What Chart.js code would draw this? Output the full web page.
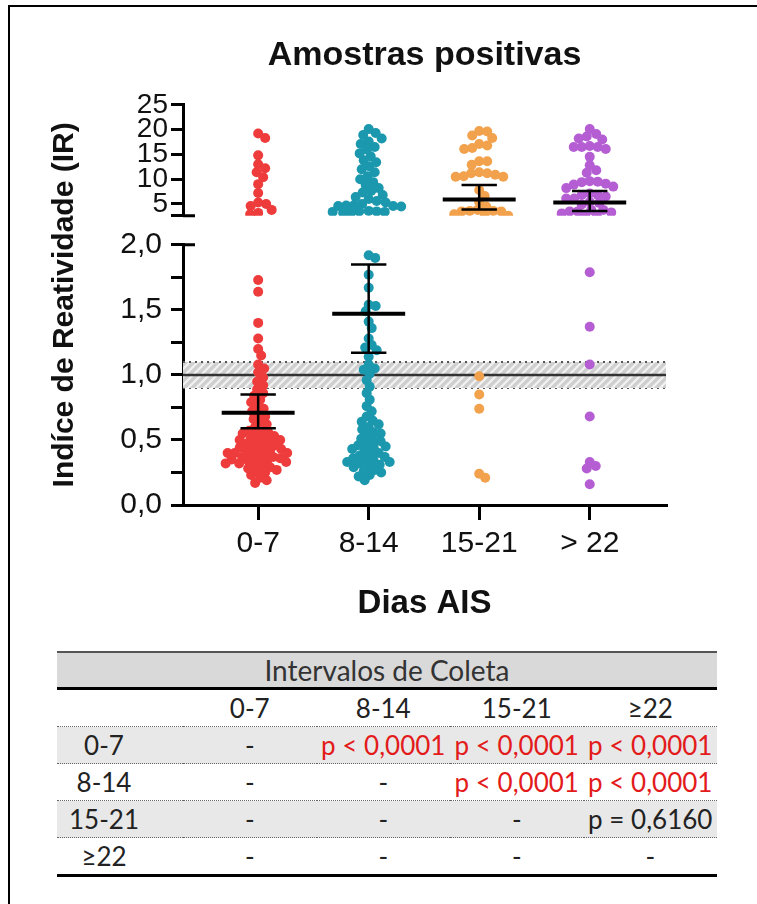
<!DOCTYPE html>
<html>
<head>
<meta charset="utf-8">
<script src="https://cdn.jsdelivr.net/npm/chart.js@4.4.1/dist/chart.umd.min.js"></script>
<style>
  html, body { margin: 0; background: #fff; overflow: hidden; }
  #frame { position: absolute; left: 8px; top: 5px; width: 747px; height: 899px; border-left: 2px solid #000; border-top: 2px solid #000; }
  #chartBox { position: absolute; left: 0; top: 0; }
  #tbl { position: absolute; left: 57px; top: 651px; width: 660px; border-collapse: collapse; table-layout: fixed;
         font-family: Lato, 'Open Sans', sans-serif; font-size: 26px; color: #222; }
  #tbl th, #tbl td { padding: 0; text-align: center; font-weight: normal; height: 36px; }
  #tbl th { background: #d9d9d9; border-top: 2px solid #555; border-bottom: 3px solid #000; height: 34px; color: #333; font-size: 28px; }
  #tbl tr.linha td { border-top: 1px dotted #666; }
  #tbl tr.cinza td { background: #e8e8e8; }
  #tbl tr.ultima td { border-bottom: 3px solid #000; }
  #tbl td.rot { padding-right: 32px; }
  #tbl td.sig { color: #e31b1b; }
</style>
</head>
<body>
<div id="frame"></div>
<div id="chartBox"><canvas id="irChart" width="757" height="640"></canvas></div>
<table id="tbl"></table>
<script>
// grupos (dias AIS)
const grupos = ['0-7', '8-14', '15-21', '> 22'];
const cores = ['#ee3c3c', '#1b98ad', '#f2a14c', '#b55ed4'];

// IR de cada amostra, por grupo
const ir0_7 = [19.2, 18.3, 14.8, 13.0, 12.2, 11.4, 10.4, 9.0, 7.2, 5.3, 5.0, 4.6, 3.8, 3.2, 2.9,
  1.73, 1.64, 1.40, 1.28, 1.20, 1.15, 1.08, 1.05, 1.02, 0.98, 0.95, 0.92, 0.89, 0.86, 0.84, 0.81,
  0.79, 0.76, 0.74, 0.72, 0.70, 0.68, 0.66, 0.64, 0.62, 0.60, 0.58, 0.57, 0.56,
  0.55, 0.54, 0.53, 0.52, 0.51, 0.50,
  0.50, 0.49, 0.48, 0.47, 0.46, 0.45,
  0.45, 0.44, 0.43, 0.42, 0.42, 0.41, 0.40, 0.40,
  0.40, 0.39, 0.38, 0.37, 0.37, 0.36, 0.35, 0.35,
  0.34, 0.34, 0.33, 0.32, 0.32, 0.31, 0.30,
  0.29, 0.28, 0.27, 0.26, 0.25, 0.23, 0.21, 0.19, 0.17];
const ir8_14 = [20.1, 19.3, 18.9, 18.2, 17.6, 17.1, 16.5, 16.0, 15.2, 14.6, 13.8, 13.4, 12.6, 12.0,
  11.4, 10.6, 10.0, 9.4, 8.8, 8.2, 7.6, 7.3, 6.8, 6.4, 6.0, 5.6, 5.3, 5.0,
  4.8, 4.7, 4.6, 4.6, 4.5, 3.6, 3.5, 3.5, 3.4, 3.4, 3.3, 3.2,
  1.92, 1.90, 1.77, 1.67, 1.54, 1.53, 1.49, 1.41, 1.36, 1.28, 1.23, 1.21, 1.19, 1.14, 1.08, 1.05,
  1.04, 1.01, 0.96, 0.91, 0.86, 0.81, 0.76, 0.72, 0.68, 0.65, 0.64, 0.62, 0.60, 0.58, 0.56, 0.55,
  0.53, 0.51, 0.50, 0.49, 0.47, 0.46, 0.45, 0.44, 0.43, 0.42, 0.40, 0.39, 0.38, 0.37, 0.36, 0.35,
  0.34, 0.33, 0.33, 0.32, 0.31, 0.30, 0.29, 0.27, 0.26, 0.25, 0.23, 0.22, 0.19];
const ir15_21 = [19.7, 19.6, 18.8, 18.3, 17.1, 16.8, 16.3, 16.1, 13.6, 13.6, 12.9, 11.4, 11.2, 11.2,
  10.9, 10.6, 10.5, 10.5, 7.8, 6.6, 5.4, 4.5, 3.8, 3.6, 3.6, 3.5, 3.5, 2.9, 2.9, 2.6,
  0.99, 0.85, 0.74, 0.24, 0.21];
const ir22 = [20.1, 19.1, 18.6, 18.2, 18.0, 16.7, 16.5, 16.5, 16.1, 16.5, 14.5, 12.8, 11.8, 11.3,
  9.6, 9.5, 9.4, 9.1, 8.9, 8.5, 8.2, 7.1, 6.8, 6.8, 6.5, 6.1, 6.1, 5.4, 5.2, 4.9, 3.8, 3.8, 3.5,
  3.5, 3.3, 3.1, 2.7, 2.6,
  1.79, 1.37, 1.08, 0.68, 0.33, 0.30, 0.28, 0.16];

// media e intervalo de confianca
const media = [0.71, 1.47, 5.9, 5.3];
const icMin = [0.59, 1.17, 3.9, 3.6];
const icMax = [0.85, 1.85, 8.8, 7.6];

// zona cinza (indeterminado)
const zonaCinza = [0.9, 1.0, 1.1];

// ticks do eixo y
const ticksTopo = [5, 10, 15, 20, 25];
const ticksBase = [0, 0.25, 0.5, 0.75, 1, 1.25, 1.5, 1.75, 2];

// tabela de comparacoes
const colTabela = ['0-7', '8-14', '15-21', '≥22'];
const linTabela = ['0-7', '8-14', '15-21', '≥22'];
const pTabela = [
  ['-', 'p < 0,0001', 'p < 0,0001', 'p < 0,0001'],
  ['-', '-', 'p < 0,0001', 'p < 0,0001'],
  ['-', '-', '-', 'p = 0,6160'],
  ['-', '-', '-', '-']
];

const X_MIN = 0.32, X_MAX = 4.69;
const TOP_MIN = 2.6, TOP_MAX = 25, BOT_MAX = 2;
const GAP = {yTop: 8, yBot: 7}; // distancia minima entre pontos (px)

Chart.defaults.font.family = "'Liberation Sans', Arial, sans-serif";
Chart.defaults.color = '#111';

// hachurado da zona cinza
let pc = document.createElement('canvas');
pc.width = 8; pc.height = 8;
let pg = pc.getContext('2d');
pg.fillStyle = '#cfcfcf';
pg.fillRect(0, 0, 8, 8);
pg.strokeStyle = '#f2f2f2';
pg.lineWidth = 2.2;
pg.beginPath();
pg.moveTo(0, 8); pg.lineTo(8, 0);
pg.moveTo(-2, 2); pg.lineTo(2, -2);
pg.moveTo(6, 10); pg.lineTo(10, 6);
pg.stroke();
let hatch = pg.createPattern(pc, 'repeat');

let datasets = [];

function linhaH(y) {
  return [{x: X_MIN, y: y}, {x: X_MAX, y: y}];
}
datasets.push({type: 'line', data: linhaH(zonaCinza[2]), yAxisID: 'yBot', showLine: true,
  borderColor: '#555', borderWidth: 2, borderDash: [2, 4], pointRadius: 0,
  fill: '+1', backgroundColor: hatch, order: 10});
datasets.push({type: 'line', data: linhaH(zonaCinza[0]), yAxisID: 'yBot', showLine: true,
  borderColor: '#555', borderWidth: 2, borderDash: [2, 4], pointRadius: 0, fill: false, order: 10});
datasets.push({type: 'line', data: linhaH(zonaCinza[1]), yAxisID: 'yBot', showLine: true,
  borderColor: '#333', borderWidth: 2.5, pointRadius: 0, fill: false, order: 9});

// pontos: cada grupo dividido entre a parte de cima e a de baixo do eixo
const todos = [ir0_7, ir8_14, ir15_21, ir22];
todos.forEach((vals, g) => {
  ['yTop', 'yBot'].forEach(ax => {
    let parte = vals.filter(v => ax === 'yTop' ? v > BOT_MAX : v <= BOT_MAX);
    datasets.push({
      type: 'scatter', swarm: g + 1, yAxisID: ax,
      data: parte.map(v => ({x: g + 1, y: v})),
      backgroundColor: cores[g], borderWidth: 0,
      pointRadius: 5, pointHoverRadius: 5, order: 5
    });
  });
});

// media (linha grossa) e IC com bigodes
media.forEach((m, g) => {
  let ax = m > BOT_MAX ? 'yTop' : 'yBot';
  let c = g + 1;
  datasets.push({type: 'line', yAxisID: ax, showLine: true,
    data: [{x: c - 0.33, y: m}, {x: c + 0.33, y: m}],
    borderColor: '#000', borderWidth: 4, pointRadius: 0, fill: false, order: 0});
  datasets.push({type: 'line', yAxisID: ax, showLine: true, spanGaps: false,
    data: [{x: c - 0.16, y: icMax[g]}, {x: c + 0.16, y: icMax[g]}, {x: null, y: null},
           {x: c, y: icMax[g]}, {x: c, y: icMin[g]}, {x: null, y: null},
           {x: c - 0.16, y: icMin[g]}, {x: c + 0.16, y: icMin[g]}],
    borderColor: '#000', borderWidth: 2.5, pointRadius: 0, fill: false, order: 0});
});

// marca da quebra do eixo
const quebraEixo = {
  id: 'quebraEixo',
  afterDraw(chart) {
    let ctx = chart.ctx;
    let x0 = chart.scales.yBot.right;
    let yA = chart.scales.yTop.getPixelForValue(TOP_MIN);
    let yB = chart.scales.yBot.getPixelForValue(BOT_MAX);
    ctx.save();
    ctx.strokeStyle = '#000';
    ctx.lineWidth = 3;
    ctx.beginPath();
    ctx.moveTo(x0, yA); ctx.lineTo(x0 + 12, yA);
    ctx.moveTo(x0, yB); ctx.lineTo(x0 + 12, yB);
    ctx.stroke();
    ctx.restore();
  }
};

const gridEixo = {drawOnChartArea: false, color: '#000', lineWidth: 3, tickLength: 12};
const bordaEixo = {color: '#000', width: 3};

let ctx = document.getElementById('irChart').getContext('2d');
let irChart = new Chart(ctx, {
  type: 'scatter',
  data: {datasets: datasets},
  plugins: [quebraEixo],
  options: {
    responsive: false,
    animation: false,
    layout: {padding: {left: 47, right: 91, top: 0, bottom: 13}},
    plugins: {
      legend: {display: false},
      tooltip: {enabled: false},
      title: {
        display: true, text: 'Amostras positivas', fullSize: false,
        font: {size: 34, weight: 'bold'}, color: '#111',
        padding: {top: 35, bottom: 29}
      }
    },
    scales: {
      x: {
        type: 'linear', position: 'bottom', min: X_MIN, max: X_MAX,
        afterBuildTicks: s => { s.ticks = grupos.map((g, i) => ({value: i + 1})); },
        afterFit: s => { s.height = 122; },
        ticks: {callback: v => grupos[v - 1], font: {size: 30}, padding: 6, autoSkip: false, maxRotation: 0},
        grid: {drawOnChartArea: false, color: '#000', lineWidth: 3, tickLength: 15},
        border: bordaEixo,
        title: {display: true, text: 'Dias AIS', font: {size: 33, weight: 'bold'}, padding: {top: 0, bottom: 3}}
      },
      yTitle: {
        type: 'linear', position: 'left', weight: 10,
        afterFit: s => { s.width = 68; },
        grid: {display: false}, border: {display: false}, ticks: {display: false},
        title: {display: true, text: 'Indíce de Reatividade (IR)', font: {size: 30, weight: 'bold'}, padding: 0}
      },
      yBot: {
        type: 'linear', position: 'left', stack: 'ir', stackWeight: 260, weight: 1,
        min: 0, max: BOT_MAX,
        afterBuildTicks: s => { s.ticks = ticksBase.map(v => ({value: v})); },
        afterFit: s => { s.width = 68; },
        ticks: {
          callback: v => (v % 0.5 === 0 ? v.toFixed(1).replace('.', ',') : ''),
          font: {size: 30}, padding: 9, autoSkip: false
        },
        grid: gridEixo, border: bordaEixo
      },
      yGap: {
        type: 'linear', position: 'left', stack: 'ir', stackWeight: 29, weight: 2,
        display: false,
        afterFit: s => { s.width = 68; }
      },
      yTop: {
        type: 'linear', position: 'left', stack: 'ir', stackWeight: 111, weight: 3,
        min: TOP_MIN, max: TOP_MAX,
        afterBuildTicks: s => { s.ticks = [TOP_MIN].concat(ticksTopo).map(v => ({value: v})); },
        afterFit: s => { s.width = 68; },
        ticks: {
          callback: v => (v === TOP_MIN ? '' : String(v)),
          font: {size: 28}, padding: 3, autoSkip: false
        },
        grid: gridEixo, border: bordaEixo
      }
    }
  }
});

// espalha os pontos lado a lado (beeswarm) usando as escalas do grafico
function espalhar(chart) {
  let xs = chart.scales.x;
  let pxUnit = xs.getPixelForValue(1) - xs.getPixelForValue(0);
  chart.data.datasets.forEach(ds => {
    if (!ds.swarm) return;
    let ys = chart.scales[ds.yAxisID];
    let gap = GAP[ds.yAxisID];
    let feitos = [];
    ds.data.forEach(p => {
      let py = ys.getPixelForValue(p.y);
      let dx = 0;
      for (let k = 0; k < 400; k++) {
        let c = (k % 2 ? 1 : -1) * Math.ceil(k / 2) * 0.5;
        let livre = true;
        for (let q of feitos) {
          if (Math.hypot(q.dx - c, q.py - py) < gap) { livre = false; break; }
        }
        if (livre) { dx = c; break; }
      }
      feitos.push({dx: dx, py: py});
      p.x = ds.swarm + dx / pxUnit;
    });
  });
  chart.update('none');
}
espalhar(irChart);

// tabela
let tbl = document.getElementById('tbl');
let html = '<colgroup><col style="width:126px">' + colTabela.map(() => '<col>').join('') + '</colgroup>';
html += '<tr><th colspan="5">Intervalos de Coleta</th></tr>';
html += '<tr><td></td>' + colTabela.map(c => '<td>' + c + '</td>').join('') + '</tr>';
linTabela.forEach((r, i) => {
  let cls = 'linha' + (i % 2 === 0 ? ' cinza' : '') + (i === linTabela.length - 1 ? ' ultima' : '');
  html += '<tr class="' + cls + '"><td class="rot">' + r + '</td>';
  pTabela[i].forEach(p => {
    let sig = p.indexOf('<') >= 0;
    html += '<td' + (sig ? ' class="sig"' : '') + '>' + p.replace('<', '&lt;') + '</td>';
  });
  html += '</tr>';
});
tbl.innerHTML = html;
</script>
</body>
</html>
